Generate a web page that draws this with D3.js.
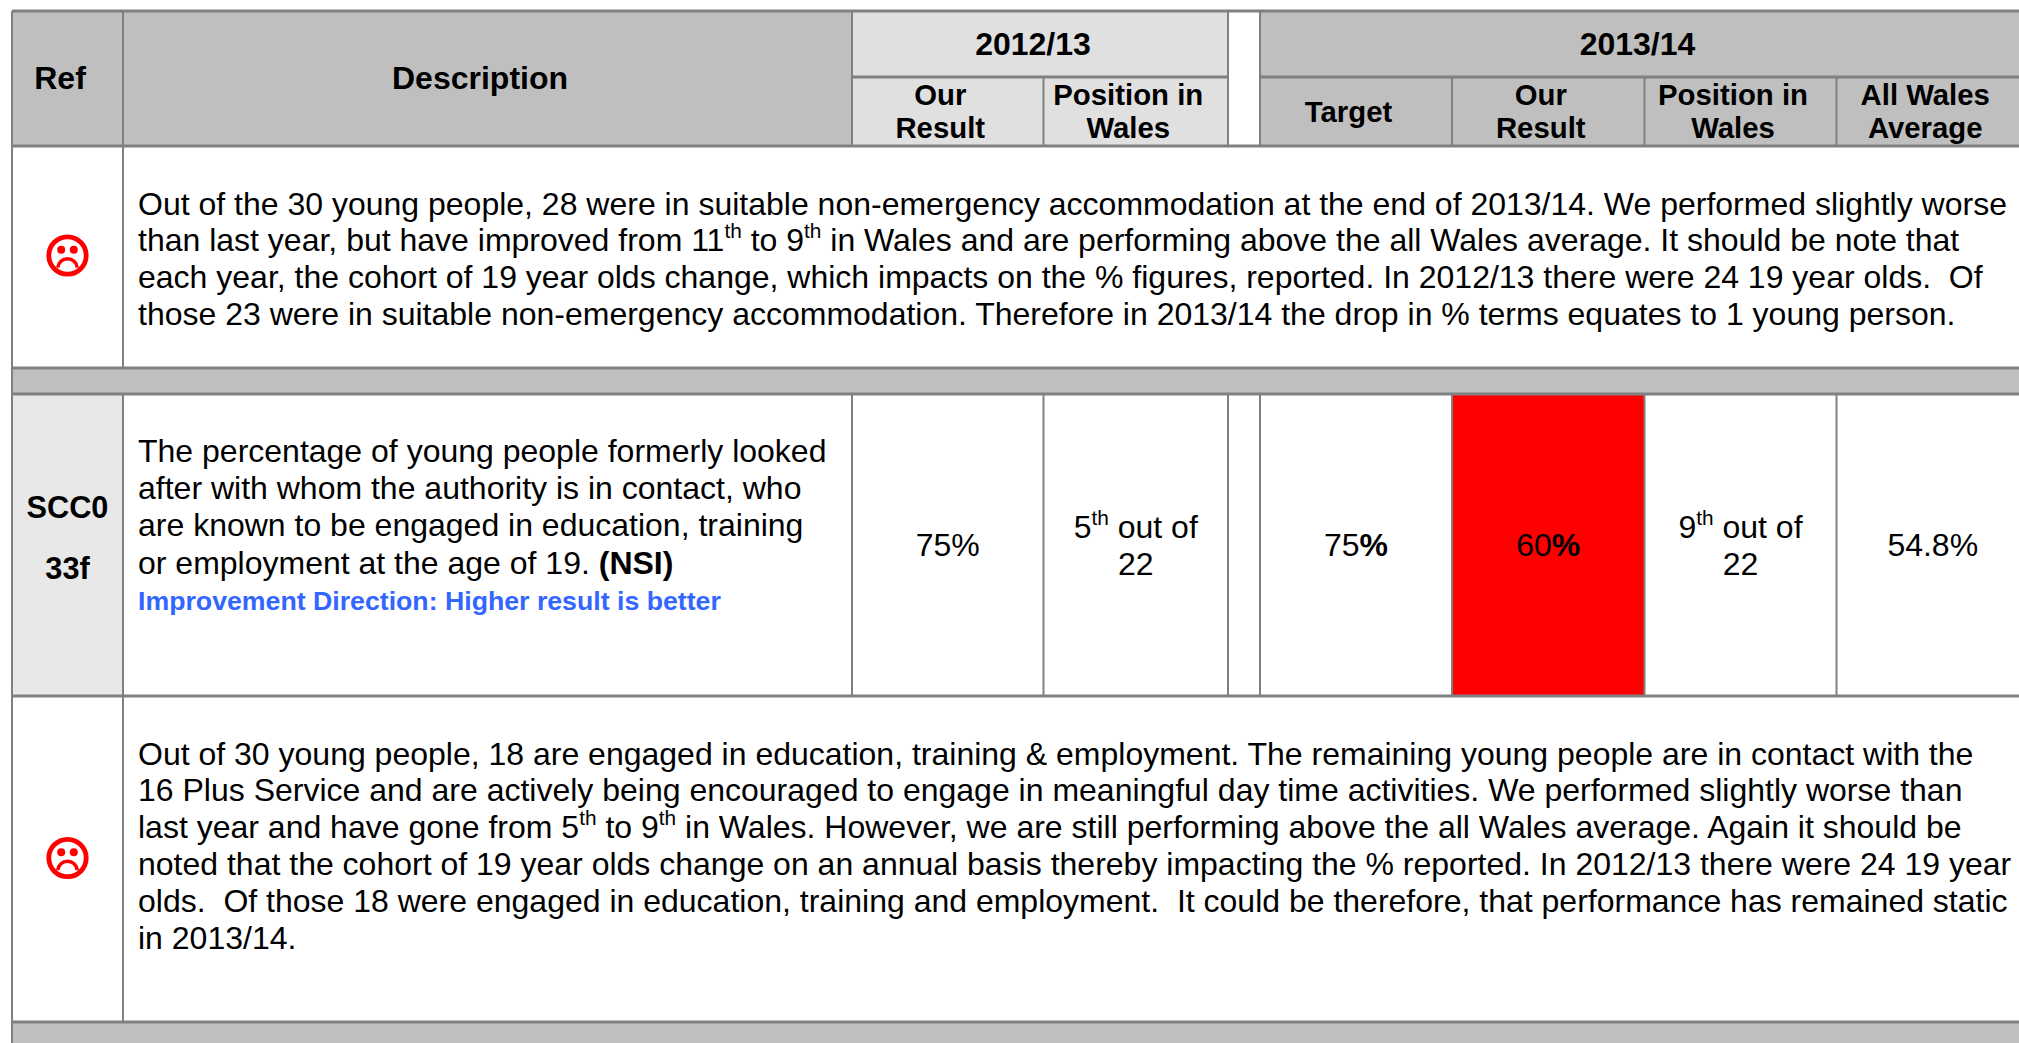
<!DOCTYPE html>
<html><head><meta charset="utf-8">
<script src="https://cdn.jsdelivr.net/npm/d3@7"></script>
<style>html,body{margin:0;padding:0;background:#fff;overflow:hidden}svg{display:block}text{font-family:"Liberation Sans",Arial,sans-serif;white-space:pre;fill:#000}</style>
</head><body><script>
const colNames=["ref","desc","ourA","posA","gap","target","ourB","posB","avg"];
const years=[{label:"2012/13",from:"ourA",to:"posA",fill:"#e0e0e0"},{label:"2013/14",from:"target",to:"avg",fill:"#bfbfbf"}];
const headers=[
 {col:"ref",lines:["Ref"],big:1},{col:"desc",lines:["Description"],big:1},
 {col:"ourA",lines:["Our","Result"]},{col:"posA",lines:["Position in","Wales"]},
 {col:"target",lines:["Target"],big:2},{col:"ourB",lines:["Our","Result"]},
 {col:"posB",lines:["Position in","Wales"]},{col:"avg",lines:["All Wales","Average"]}];
const comment1=["Out of the 30 young people, 28 were in suitable non-emergency accommodation at the end of 2013/14. We performed slightly worse",
 "than last year, but have improved from 11^th^ to 9^th^ in Wales and are performing above the all Wales average. It should be note that",
 "each year, the cohort of 19 year olds change, which impacts on the % figures, reported. In 2012/13 there were 24 19 year olds.  Of",
 "those 23 were in suitable non-emergency accommodation. Therefore in 2013/14 the drop in % terms equates to 1 young person."];
const description=["The percentage of young people formerly looked","after with whom the authority is in contact, who","are known to be engaged in education, training","or employment at the age of 19. *(NSI)*"];
const direction="Improvement Direction: Higher result is better";
const refCode=["SCC0","33f"];
const values=[
 {col:"ourA",lines:["75%"]},{col:"posA",lines:["5^th^ out of","22"]},
 {col:"target",lines:["75*%*"]},{col:"ourB",lines:["60*%*"],fill:"#ff0000"},
 {col:"posB",lines:["9^th^ out of","22"]},{col:"avg",lines:["54.8%"]}];
const comment2=["Out of 30 young people, 18 are engaged in education, training & employment. The remaining young people are in contact with the",
 "16 Plus Service and are actively being encouraged to engage in meaningful day time activities. We performed slightly worse than",
 "last year and have gone from 5^th^ to 9^th^ in Wales. However, we are still performing above the all Wales average. Again it should be",
 "noted that the cohort of 19 year olds change on an annual basis thereby impacting the % reported. In 2012/13 there were 24 19 year",
 "olds.  Of those 18 were engaged in education, training and employment.  It could be therefore, that performance has remained static",
 "in 2013/14."];

// layout
const W=2019,H=1043;
const edge=d3.scaleOrdinal().domain(colNames.concat("end")).range([12,123,852,1043.5,1228,1260,1452,1644.5,1836.5,2029]);
const next=c=>colNames.concat("end")[colNames.indexOf(c)+1];
const cx=c=>(edge(c)+edge(next(c)))/2;
const Y={top:11,sub:77,head:146,band:368,rowT:394,rowB:696,band2:1022};
const BODY=32,HEAD=32,SUB=29.33,SMALL=26.7,LINE="#808080";
const svg=d3.select("body").append("svg").attr("width",W).attr("height",H);
const rect=(x0,y0,x1,y1,f)=>svg.append("rect").attr("x",x0).attr("y",y0).attr("width",x1-x0).attr("height",y1-y0).attr("fill",f);
const vline=(x,y0,y1,w=2)=>svg.append("line").attr("x1",x).attr("x2",x).attr("y1",y0).attr("y2",y1).attr("stroke",LINE).attr("stroke-width",w);
const hline=(x0,x1,y,w=3)=>svg.append("line").attr("x1",x0).attr("x2",x1).attr("y1",y).attr("y2",y).attr("stroke",LINE).attr("stroke-width",w);

function rich(x,y,str,size,anchor="start",opts={}){
 const t=svg.append("text").attr("x",x).attr("y",y).attr("font-size",size).attr("text-anchor",anchor);
 if(opts.bold)t.attr("font-weight","bold");
 if(opts.fill)t.style("fill",opts.fill);
 const rise=size*0.42; let pending=0;
 str.split(/(\^[^^]+\^|\*[^*]+\*)/).filter(s=>s).forEach(p=>{
  if(p[0]=="^"){
   t.append("tspan").attr("dy",-rise).attr("font-size",size*0.65).text(p.slice(1,-1));
   pending=rise;
  } else {
   const s=t.append("tspan").attr("dy",pending);
   pending=0;
   if(p[0]=="*") s.attr("font-weight","bold").text(p.slice(1,-1));
   else s.text(p);
  }
 });
 return t;
}
// fills
rect(edge("ref"),Y.top,edge("ourA"),Y.head,"#bfbfbf");
years.forEach(y=>rect(edge(y.from),Y.top,edge(next(y.to)),Y.sub,y.fill));
rect(edge("ourA"),Y.sub,edge("gap"),Y.head,"#e0e0e0");
rect(edge("target"),Y.sub,W,Y.head,"#bfbfbf");
rect(edge("ref"),Y.band,W,Y.rowT,"#bfbfbf");
rect(edge("ref"),Y.rowT,edge("desc"),Y.rowB,"#e8e8e8");
rect(edge("ref"),Y.band2,W,H,"#bfbfbf");
values.filter(v=>v.fill).forEach(v=>rect(edge(v.col),Y.rowT,edge(next(v.col)),Y.rowB,v.fill));
// grid
vline(edge("ref"),Y.top,H);
vline(edge("desc"),Y.top,Y.band);vline(edge("desc"),Y.rowT,Y.band2);
["ourA","gap","target"].forEach(c=>vline(edge(c),Y.top,Y.head));
["posA","ourB","posB","avg"].forEach(c=>vline(edge(c),Y.sub,Y.head));
colNames.slice(2).forEach(c=>vline(edge(c),Y.rowT,Y.rowB));
hline(edge("ref"),W,Y.top);
hline(edge("ourA"),edge("gap"),Y.sub);hline(edge("target"),W,Y.sub);
[Y.head,Y.band,Y.rowT,Y.rowB,Y.band2].forEach(y=>hline(edge("ref"),W,y));
// header text
years.forEach(y=>rich((edge(y.from)+edge(next(y.to)))/2-7,55,y.label,HEAD,"middle",{bold:1}));
headers.forEach(h=>{
 const x=cx(h.col)-7.5;
 if(h.big==1)rich(x,89,h.lines[0],HEAD,"middle",{bold:1});
 else if(h.big==2)rich(x,122,h.lines[0],SUB,"middle",{bold:1});
 else h.lines.forEach((l,i)=>rich(x,105+33.3*i,l,SUB,"middle",{bold:1}));
});
// comments
const tx=138;
comment1.forEach((l,i)=>rich(tx,214.5+i*36.8,l,BODY));
comment2.forEach((l,i)=>rich(tx,764.5+i*36.8,l,BODY));
description.forEach((l,i)=>rich(tx,462+i*37.2,l,BODY));
rich(tx,610,direction,SMALL,"start",{bold:1,fill:"#3366ff"});
refCode.forEach((l,i)=>rich(cx("ref"),518+i*61,l,30.7,"middle",{bold:1}));
values.forEach(v=>{
 const n=v.lines.length;
 v.lines.forEach((l,i)=>rich(cx(v.col),n==1?556:538+i*37,l,BODY,"middle"));
});
// faces
function face(cy){
 const g=svg.append("g").attr("transform",`translate(${cx("ref")},${cy})`);
 g.append("circle").attr("r",18.7).attr("fill","none").attr("stroke","#ff0000").attr("stroke-width",4.8);
 [-6.3,6.3].forEach(d=>g.append("circle").attr("cx",d).attr("cy",-5.8).attr("r",4).attr("fill","#ff0000"));
 g.append("path").attr("d",d3.arc()({innerRadius:8,outerRadius:11.5,startAngle:-Math.PI*0.47,endAngle:Math.PI*0.47})).attr("transform","translate(0,13)").attr("fill","#ff0000");
}
[255.5,858].forEach(face);
</script></body></html>
